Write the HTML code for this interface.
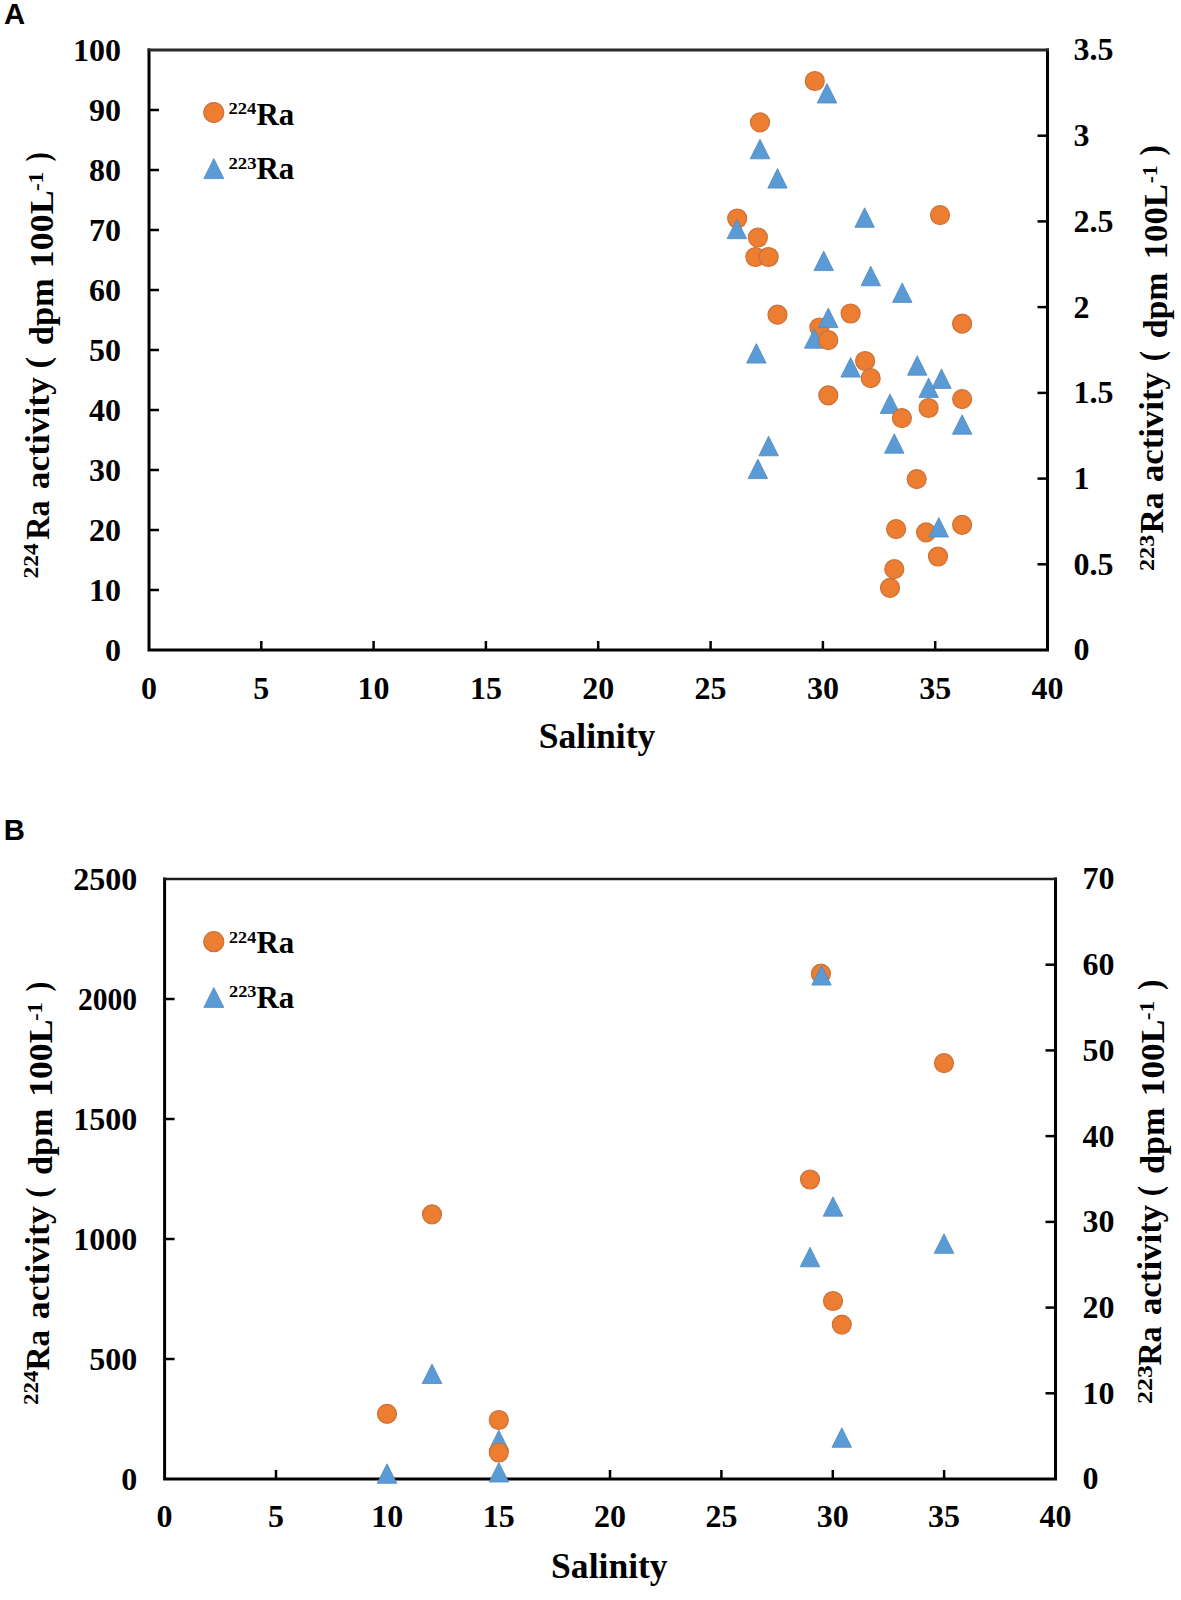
<!DOCTYPE html>
<html><head><meta charset="utf-8"><style>
html,body{margin:0;padding:0;background:#fff;}
svg{display:block;}
.t{font-family:"Liberation Serif",serif;font-weight:bold;font-size:32px;fill:#000;}
.s{font-family:"Liberation Serif",serif;font-weight:bold;fill:#000;}
.pl{font-family:"Liberation Sans",sans-serif;font-weight:bold;fill:#000;}
</style></head><body>
<svg width="1181" height="1600" viewBox="0 0 1181 1600">
<rect width="1181" height="1600" fill="#fff"/>
<text x="4" y="23.9" class="pl" font-size="29.3">A</text>
<text x="3.8" y="840.2" class="pl" font-size="29.3">B</text>
<path d="M149,650 L149,50 M1047.5,50 L1047.5,650 L149,650" fill="none" stroke="#000" stroke-width="3" stroke-linejoin="miter" stroke-linecap="square"/>
<line x1="147.5" y1="50" x2="1049.0" y2="50" stroke="#2a2a2a" stroke-width="3.2"/>
<text x="120.9" y="660.6" text-anchor="end" class="t">0</text>
<line x1="149" y1="590.0" x2="159" y2="590.0" stroke="#000" stroke-width="2.5"/>
<text x="120.9" y="600.6" text-anchor="end" class="t">10</text>
<line x1="149" y1="530.0" x2="159" y2="530.0" stroke="#000" stroke-width="2.5"/>
<text x="120.9" y="540.6" text-anchor="end" class="t">20</text>
<line x1="149" y1="470.0" x2="159" y2="470.0" stroke="#000" stroke-width="2.5"/>
<text x="120.9" y="480.6" text-anchor="end" class="t">30</text>
<line x1="149" y1="410.0" x2="159" y2="410.0" stroke="#000" stroke-width="2.5"/>
<text x="120.9" y="420.6" text-anchor="end" class="t">40</text>
<line x1="149" y1="350.0" x2="159" y2="350.0" stroke="#000" stroke-width="2.5"/>
<text x="120.9" y="360.6" text-anchor="end" class="t">50</text>
<line x1="149" y1="290.0" x2="159" y2="290.0" stroke="#000" stroke-width="2.5"/>
<text x="120.9" y="300.6" text-anchor="end" class="t">60</text>
<line x1="149" y1="230.0" x2="159" y2="230.0" stroke="#000" stroke-width="2.5"/>
<text x="120.9" y="240.6" text-anchor="end" class="t">70</text>
<line x1="149" y1="170.0" x2="159" y2="170.0" stroke="#000" stroke-width="2.5"/>
<text x="120.9" y="180.6" text-anchor="end" class="t">80</text>
<line x1="149" y1="110.0" x2="159" y2="110.0" stroke="#000" stroke-width="2.5"/>
<text x="120.9" y="120.6" text-anchor="end" class="t">90</text>
<text x="120.9" y="60.6" text-anchor="end" class="t">100</text>
<text x="1073.6" y="660.4" text-anchor="start" class="t">0</text>
<line x1="1037.5" y1="564.3" x2="1047.5" y2="564.3" stroke="#000" stroke-width="2.5"/>
<text x="1073.6" y="574.7" text-anchor="start" class="t">0.5</text>
<line x1="1037.5" y1="478.6" x2="1047.5" y2="478.6" stroke="#000" stroke-width="2.5"/>
<text x="1073.6" y="489.0" text-anchor="start" class="t">1</text>
<line x1="1037.5" y1="392.9" x2="1047.5" y2="392.9" stroke="#000" stroke-width="2.5"/>
<text x="1073.6" y="403.3" text-anchor="start" class="t">1.5</text>
<line x1="1037.5" y1="307.1" x2="1047.5" y2="307.1" stroke="#000" stroke-width="2.5"/>
<text x="1073.6" y="317.5" text-anchor="start" class="t">2</text>
<line x1="1037.5" y1="221.4" x2="1047.5" y2="221.4" stroke="#000" stroke-width="2.5"/>
<text x="1073.6" y="231.8" text-anchor="start" class="t">2.5</text>
<line x1="1037.5" y1="135.7" x2="1047.5" y2="135.7" stroke="#000" stroke-width="2.5"/>
<text x="1073.6" y="146.1" text-anchor="start" class="t">3</text>
<text x="1073.6" y="60.4" text-anchor="start" class="t">3.5</text>
<text x="149.0" y="699" text-anchor="middle" class="t">0</text>
<line x1="261.3" y1="641" x2="261.3" y2="650" stroke="#000" stroke-width="2.5"/>
<text x="261.3" y="699" text-anchor="middle" class="t">5</text>
<line x1="373.6" y1="641" x2="373.6" y2="650" stroke="#000" stroke-width="2.5"/>
<text x="373.6" y="699" text-anchor="middle" class="t">10</text>
<line x1="485.9" y1="641" x2="485.9" y2="650" stroke="#000" stroke-width="2.5"/>
<text x="485.9" y="699" text-anchor="middle" class="t">15</text>
<line x1="598.2" y1="641" x2="598.2" y2="650" stroke="#000" stroke-width="2.5"/>
<text x="598.2" y="699" text-anchor="middle" class="t">20</text>
<line x1="710.6" y1="641" x2="710.6" y2="650" stroke="#000" stroke-width="2.5"/>
<text x="710.6" y="699" text-anchor="middle" class="t">25</text>
<line x1="822.9" y1="641" x2="822.9" y2="650" stroke="#000" stroke-width="2.5"/>
<text x="822.9" y="699" text-anchor="middle" class="t">30</text>
<line x1="935.2" y1="641" x2="935.2" y2="650" stroke="#000" stroke-width="2.5"/>
<text x="935.2" y="699" text-anchor="middle" class="t">35</text>
<text x="1047.5" y="699" text-anchor="middle" class="t">40</text>
<circle cx="814.8" cy="81.0" r="9.5" fill="#ED7D31" stroke="#C9723A" stroke-width="1.2"/>
<circle cx="737.2" cy="218.5" r="9.5" fill="#ED7D31" stroke="#C9723A" stroke-width="1.2"/>
<circle cx="819.4" cy="327.5" r="9.5" fill="#ED7D31" stroke="#C9723A" stroke-width="1.2"/>
<circle cx="926.1" cy="532.4" r="9.5" fill="#ED7D31" stroke="#C9723A" stroke-width="1.2"/>
<path d="M827.0,83.5 L836.8,103.0 L817.2,103.0Z" fill="#5B9BD5" stroke="#4F89BF" stroke-width="0.8"/>
<path d="M760.0,139.2 L769.8,158.8 L750.2,158.8Z" fill="#5B9BD5" stroke="#4F89BF" stroke-width="0.8"/>
<path d="M777.5,168.6 L787.2,188.1 L767.8,188.1Z" fill="#5B9BD5" stroke="#4F89BF" stroke-width="0.8"/>
<path d="M736.9,219.2 L746.6,238.7 L727.1,238.7Z" fill="#5B9BD5" stroke="#4F89BF" stroke-width="0.8"/>
<path d="M864.6,207.8 L874.4,227.3 L854.9,227.3Z" fill="#5B9BD5" stroke="#4F89BF" stroke-width="0.8"/>
<path d="M823.7,251.1 L833.5,270.6 L814.0,270.6Z" fill="#5B9BD5" stroke="#4F89BF" stroke-width="0.8"/>
<path d="M870.7,266.2 L880.5,285.8 L861.0,285.8Z" fill="#5B9BD5" stroke="#4F89BF" stroke-width="0.8"/>
<path d="M902.2,282.9 L912.0,302.4 L892.5,302.4Z" fill="#5B9BD5" stroke="#4F89BF" stroke-width="0.8"/>
<path d="M828.3,308.1 L838.0,327.6 L818.5,327.6Z" fill="#5B9BD5" stroke="#4F89BF" stroke-width="0.8"/>
<path d="M814.3,328.8 L824.0,348.2 L804.5,348.2Z" fill="#5B9BD5" stroke="#4F89BF" stroke-width="0.8"/>
<path d="M756.4,343.6 L766.1,363.1 L746.6,363.1Z" fill="#5B9BD5" stroke="#4F89BF" stroke-width="0.8"/>
<path d="M850.6,357.6 L860.4,377.1 L840.9,377.1Z" fill="#5B9BD5" stroke="#4F89BF" stroke-width="0.8"/>
<path d="M917.2,355.8 L927.0,375.2 L907.5,375.2Z" fill="#5B9BD5" stroke="#4F89BF" stroke-width="0.8"/>
<path d="M941.5,368.9 L951.2,388.4 L931.8,388.4Z" fill="#5B9BD5" stroke="#4F89BF" stroke-width="0.8"/>
<path d="M928.6,377.9 L938.4,397.4 L918.9,397.4Z" fill="#5B9BD5" stroke="#4F89BF" stroke-width="0.8"/>
<path d="M890.0,393.9 L899.8,413.4 L880.2,413.4Z" fill="#5B9BD5" stroke="#4F89BF" stroke-width="0.8"/>
<path d="M962.1,414.8 L971.9,434.2 L952.4,434.2Z" fill="#5B9BD5" stroke="#4F89BF" stroke-width="0.8"/>
<path d="M894.3,433.8 L904.0,453.2 L884.5,453.2Z" fill="#5B9BD5" stroke="#4F89BF" stroke-width="0.8"/>
<path d="M768.6,436.2 L778.4,455.8 L758.9,455.8Z" fill="#5B9BD5" stroke="#4F89BF" stroke-width="0.8"/>
<path d="M757.9,459.1 L767.6,478.6 L748.1,478.6Z" fill="#5B9BD5" stroke="#4F89BF" stroke-width="0.8"/>
<path d="M938.8,517.5 L948.5,537.0 L929.0,537.0Z" fill="#5B9BD5" stroke="#4F89BF" stroke-width="0.8"/>
<circle cx="760.0" cy="122.4" r="9.5" fill="#ED7D31" stroke="#C9723A" stroke-width="1.2"/>
<circle cx="757.9" cy="237.5" r="9.5" fill="#ED7D31" stroke="#C9723A" stroke-width="1.2"/>
<circle cx="755.4" cy="257.0" r="9.5" fill="#ED7D31" stroke="#C9723A" stroke-width="1.2"/>
<circle cx="768.6" cy="257.0" r="9.5" fill="#ED7D31" stroke="#C9723A" stroke-width="1.2"/>
<circle cx="940.0" cy="215.1" r="9.5" fill="#ED7D31" stroke="#C9723A" stroke-width="1.2"/>
<circle cx="777.5" cy="314.7" r="9.5" fill="#ED7D31" stroke="#C9723A" stroke-width="1.2"/>
<circle cx="850.6" cy="313.5" r="9.5" fill="#ED7D31" stroke="#C9723A" stroke-width="1.2"/>
<circle cx="962.1" cy="323.7" r="9.5" fill="#ED7D31" stroke="#C9723A" stroke-width="1.2"/>
<circle cx="828.3" cy="340.2" r="9.5" fill="#ED7D31" stroke="#C9723A" stroke-width="1.2"/>
<circle cx="865.1" cy="361.0" r="9.5" fill="#ED7D31" stroke="#C9723A" stroke-width="1.2"/>
<circle cx="870.7" cy="378.2" r="9.5" fill="#ED7D31" stroke="#C9723A" stroke-width="1.2"/>
<circle cx="828.3" cy="395.3" r="9.5" fill="#ED7D31" stroke="#C9723A" stroke-width="1.2"/>
<circle cx="962.1" cy="399.1" r="9.5" fill="#ED7D31" stroke="#C9723A" stroke-width="1.2"/>
<circle cx="928.6" cy="408.0" r="9.5" fill="#ED7D31" stroke="#C9723A" stroke-width="1.2"/>
<circle cx="901.9" cy="418.1" r="9.5" fill="#ED7D31" stroke="#C9723A" stroke-width="1.2"/>
<circle cx="916.7" cy="479.1" r="9.5" fill="#ED7D31" stroke="#C9723A" stroke-width="1.2"/>
<circle cx="896.1" cy="529.1" r="9.5" fill="#ED7D31" stroke="#C9723A" stroke-width="1.2"/>
<circle cx="962.1" cy="524.8" r="9.5" fill="#ED7D31" stroke="#C9723A" stroke-width="1.2"/>
<circle cx="938.0" cy="556.5" r="9.5" fill="#ED7D31" stroke="#C9723A" stroke-width="1.2"/>
<circle cx="894.3" cy="569.2" r="9.5" fill="#ED7D31" stroke="#C9723A" stroke-width="1.2"/>
<circle cx="890.0" cy="587.8" r="9.5" fill="#ED7D31" stroke="#C9723A" stroke-width="1.2"/>
<circle cx="213.8" cy="112.6" r="10" fill="#ED7D31" stroke="#C9723A" stroke-width="1.2"/>
<path d="M213.8,158.6 L223.8,178.6 L203.8,178.6Z" fill="#5B9BD5" stroke="#4F89BF" stroke-width="0.8"/>
<text transform="translate(228.42,114.40) scale(1.0599,1)" class="s" font-size="17.5">224</text>
<text transform="translate(256.47,125.00) scale(0.9818,1)" class="s" font-size="31.5">Ra</text>
<text transform="translate(228.41,168.90) scale(1.0716,1)" class="s" font-size="17.5">223</text>
<text transform="translate(256.47,179.00) scale(0.9818,1)" class="s" font-size="31.5">Ra</text>
<text transform="translate(538.71,748.40) scale(0.9746,1)" class="s" font-size="36.5">Salinity</text>
<path d="M164.6,1479 L164.6,879 M1055.5,879 L1055.5,1479 L164.6,1479" fill="none" stroke="#000" stroke-width="3" stroke-linejoin="miter" stroke-linecap="square"/>
<line x1="163.1" y1="879" x2="1057.0" y2="879" stroke="#1a1a1a" stroke-width="2.6"/>
<text x="137.2" y="1489.6" text-anchor="end" class="t">0</text>
<line x1="164.6" y1="1359.0" x2="174.6" y2="1359.0" stroke="#000" stroke-width="2.5"/>
<text x="137.2" y="1369.6" text-anchor="end" class="t">500</text>
<line x1="164.6" y1="1239.0" x2="174.6" y2="1239.0" stroke="#000" stroke-width="2.5"/>
<text x="137.2" y="1249.6" text-anchor="end" class="t">1000</text>
<line x1="164.6" y1="1119.0" x2="174.6" y2="1119.0" stroke="#000" stroke-width="2.5"/>
<text x="137.2" y="1129.6" text-anchor="end" class="t">1500</text>
<line x1="164.6" y1="999.0" x2="174.6" y2="999.0" stroke="#000" stroke-width="2.5"/>
<text transform="translate(77.96,1009.60) scale(0.9245,1)" class="t" font-size="32">2000</text>
<text x="137.2" y="889.6" text-anchor="end" class="t">2500</text>
<text x="1082.6" y="1489.4" text-anchor="start" class="t">0</text>
<line x1="1045.5" y1="1393.3" x2="1055.5" y2="1393.3" stroke="#000" stroke-width="2.5"/>
<text x="1082.6" y="1403.7" text-anchor="start" class="t">10</text>
<line x1="1045.5" y1="1307.6" x2="1055.5" y2="1307.6" stroke="#000" stroke-width="2.5"/>
<text x="1082.6" y="1318.0" text-anchor="start" class="t">20</text>
<line x1="1045.5" y1="1221.9" x2="1055.5" y2="1221.9" stroke="#000" stroke-width="2.5"/>
<text x="1082.6" y="1232.3" text-anchor="start" class="t">30</text>
<line x1="1045.5" y1="1136.1" x2="1055.5" y2="1136.1" stroke="#000" stroke-width="2.5"/>
<text x="1082.6" y="1146.5" text-anchor="start" class="t">40</text>
<line x1="1045.5" y1="1050.4" x2="1055.5" y2="1050.4" stroke="#000" stroke-width="2.5"/>
<text x="1082.6" y="1060.8" text-anchor="start" class="t">50</text>
<line x1="1045.5" y1="964.7" x2="1055.5" y2="964.7" stroke="#000" stroke-width="2.5"/>
<text x="1082.6" y="975.1" text-anchor="start" class="t">60</text>
<text x="1082.6" y="889.4" text-anchor="start" class="t">70</text>
<text x="164.6" y="1527.3" text-anchor="middle" class="t">0</text>
<line x1="276.0" y1="1470" x2="276.0" y2="1479" stroke="#000" stroke-width="2.5"/>
<text x="276.0" y="1527.3" text-anchor="middle" class="t">5</text>
<line x1="387.3" y1="1470" x2="387.3" y2="1479" stroke="#000" stroke-width="2.5"/>
<text x="387.3" y="1527.3" text-anchor="middle" class="t">10</text>
<line x1="498.7" y1="1470" x2="498.7" y2="1479" stroke="#000" stroke-width="2.5"/>
<text x="498.7" y="1527.3" text-anchor="middle" class="t">15</text>
<line x1="610.0" y1="1470" x2="610.0" y2="1479" stroke="#000" stroke-width="2.5"/>
<text x="610.0" y="1527.3" text-anchor="middle" class="t">20</text>
<line x1="721.4" y1="1470" x2="721.4" y2="1479" stroke="#000" stroke-width="2.5"/>
<text x="721.4" y="1527.3" text-anchor="middle" class="t">25</text>
<line x1="832.8" y1="1470" x2="832.8" y2="1479" stroke="#000" stroke-width="2.5"/>
<text x="832.8" y="1527.3" text-anchor="middle" class="t">30</text>
<line x1="944.1" y1="1470" x2="944.1" y2="1479" stroke="#000" stroke-width="2.5"/>
<text x="944.1" y="1527.3" text-anchor="middle" class="t">35</text>
<text x="1055.5" y="1527.3" text-anchor="middle" class="t">40</text>
<circle cx="820.9" cy="973.7" r="9.5" fill="#ED7D31" stroke="#C9723A" stroke-width="1.2"/>
<path d="M432.0,1364.0 L441.8,1383.5 L422.2,1383.5Z" fill="#5B9BD5" stroke="#4F89BF" stroke-width="0.8"/>
<path d="M387.0,1463.8 L396.8,1483.3 L377.2,1483.3Z" fill="#5B9BD5" stroke="#4F89BF" stroke-width="0.8"/>
<path d="M498.8,1430.2 L508.6,1449.8 L489.1,1449.8Z" fill="#5B9BD5" stroke="#4F89BF" stroke-width="0.8"/>
<path d="M498.9,1462.5 L508.6,1482.0 L489.1,1482.0Z" fill="#5B9BD5" stroke="#4F89BF" stroke-width="0.8"/>
<path d="M821.5,965.6 L831.2,985.1 L811.8,985.1Z" fill="#5B9BD5" stroke="#4F89BF" stroke-width="0.8"/>
<path d="M833.0,1196.8 L842.8,1216.2 L823.2,1216.2Z" fill="#5B9BD5" stroke="#4F89BF" stroke-width="0.8"/>
<path d="M944.0,1233.8 L953.8,1253.3 L934.2,1253.3Z" fill="#5B9BD5" stroke="#4F89BF" stroke-width="0.8"/>
<path d="M810.0,1247.3 L819.8,1266.8 L800.2,1266.8Z" fill="#5B9BD5" stroke="#4F89BF" stroke-width="0.8"/>
<path d="M841.8,1427.8 L851.5,1447.3 L832.0,1447.3Z" fill="#5B9BD5" stroke="#4F89BF" stroke-width="0.8"/>
<circle cx="432.0" cy="1214.3" r="9.5" fill="#ED7D31" stroke="#C9723A" stroke-width="1.2"/>
<circle cx="387.0" cy="1413.8" r="9.5" fill="#ED7D31" stroke="#C9723A" stroke-width="1.2"/>
<circle cx="498.8" cy="1420.0" r="9.5" fill="#ED7D31" stroke="#C9723A" stroke-width="1.2"/>
<circle cx="498.8" cy="1452.5" r="9.5" fill="#ED7D31" stroke="#C9723A" stroke-width="1.2"/>
<circle cx="944.0" cy="1063.1" r="9.5" fill="#ED7D31" stroke="#C9723A" stroke-width="1.2"/>
<circle cx="810.0" cy="1179.5" r="9.5" fill="#ED7D31" stroke="#C9723A" stroke-width="1.2"/>
<circle cx="833.0" cy="1301.0" r="9.5" fill="#ED7D31" stroke="#C9723A" stroke-width="1.2"/>
<circle cx="841.8" cy="1324.6" r="9.5" fill="#ED7D31" stroke="#C9723A" stroke-width="1.2"/>
<circle cx="213.8" cy="941.7" r="10" fill="#ED7D31" stroke="#C9723A" stroke-width="1.2"/>
<path d="M213.8,987.4 L223.8,1007.4 L203.8,1007.4Z" fill="#5B9BD5" stroke="#4F89BF" stroke-width="0.8"/>
<text transform="translate(229.04,942.60) scale(1.0361,1)" class="s" font-size="17.5">224</text>
<text transform="translate(256.47,952.70) scale(0.9818,1)" class="s" font-size="31.5">Ra</text>
<text transform="translate(229.03,997.10) scale(1.0475,1)" class="s" font-size="17.5">223</text>
<text transform="translate(256.47,1007.80) scale(0.9818,1)" class="s" font-size="31.5">Ra</text>
<text transform="translate(551.11,1578.40) scale(0.9738,1)" class="s" font-size="36.5">Salinity</text>
<text transform="translate(37.50,0) rotate(-90) translate(-578.48,0) scale(1.0657,1)" class="s" font-size="22">224</text>
<text transform="translate(49.00,0) rotate(-90) translate(-539.80,0) scale(0.9317,1)" class="s" font-size="34.5">Ra</text>
<text transform="translate(49.00,0) rotate(-90) translate(-489.14,0) scale(1.0254,1)" class="s" font-size="34.5">activity</text>
<text transform="translate(49.00,0) rotate(-90) translate(-368.54,0) scale(1.0157,1)" class="s" font-size="34.5">(</text>
<text transform="translate(52.80,0) rotate(-90) translate(-345.20,0) scale(1.0135,1)" class="s" font-size="34">dpm</text>
<text transform="translate(52.80,0) rotate(-90) translate(-268.13,0) scale(1.0571,1)" class="s" font-size="34">100L</text>
<text transform="translate(42.80,0) rotate(-90) translate(-191.10,0) scale(1.0530,1)" class="s" font-size="22">-1</text>
<text transform="translate(49.00,0) rotate(-90) translate(-161.39,0) scale(0.8013,1)" class="s" font-size="34.5">)</text>
<text transform="translate(1154.00,0) rotate(-90) translate(-571.02,0) scale(1.1014,1)" class="s" font-size="22">223</text>
<text transform="translate(1163.30,0) rotate(-90) translate(-533.57,0) scale(0.9744,1)" class="s" font-size="34.5">Ra</text>
<text transform="translate(1163.30,0) rotate(-90) translate(-482.12,0) scale(1.0068,1)" class="s" font-size="34.5">activity</text>
<text transform="translate(1163.30,0) rotate(-90) translate(-361.37,0) scale(0.9028,1)" class="s" font-size="34.5">(</text>
<text transform="translate(1166.80,0) rotate(-90) translate(-338.37,0) scale(0.9972,1)" class="s" font-size="34">dpm</text>
<text transform="translate(1166.80,0) rotate(-90) translate(-259.28,0) scale(1.0212,1)" class="s" font-size="34">100L</text>
<text transform="translate(1156.80,0) rotate(-90) translate(-183.29,0) scale(0.9767,1)" class="s" font-size="22">-1</text>
<text transform="translate(1163.30,0) rotate(-90) translate(-155.50,0) scale(0.9028,1)" class="s" font-size="34.5">)</text>
<text transform="translate(38.00,0) rotate(-90) translate(-1404.96,0) scale(1.0421,1)" class="s" font-size="22">224</text>
<text transform="translate(48.60,0) rotate(-90) translate(-1370.57,0) scale(0.9622,1)" class="s" font-size="34.5">Ra</text>
<text transform="translate(48.60,0) rotate(-90) translate(-1319.15,0) scale(1.0347,1)" class="s" font-size="34.5">activity</text>
<text transform="translate(48.60,0) rotate(-90) translate(-1197.87,0) scale(0.9028,1)" class="s" font-size="34.5">(</text>
<text transform="translate(51.50,0) rotate(-90) translate(-1174.88,0) scale(1.0050,1)" class="s" font-size="34">dpm</text>
<text transform="translate(51.50,0) rotate(-90) translate(-1096.86,0) scale(1.0499,1)" class="s" font-size="34">100L</text>
<text transform="translate(41.50,0) rotate(-90) translate(-1020.81,0) scale(1.0072,1)" class="s" font-size="22">-1</text>
<text transform="translate(48.60,0) rotate(-90) translate(-991.44,0) scale(0.8464,1)" class="s" font-size="34.5">)</text>
<text transform="translate(1152.00,0) rotate(-90) translate(-1404.09,0) scale(1.1812,1)" class="s" font-size="22">223</text>
<text transform="translate(1161.00,0) rotate(-90) translate(-1365.55,0) scale(0.9256,1)" class="s" font-size="34.5">Ra</text>
<text transform="translate(1161.00,0) rotate(-90) translate(-1315.12,0) scale(1.0115,1)" class="s" font-size="34.5">activity</text>
<text transform="translate(1161.00,0) rotate(-90) translate(-1196.37,0) scale(0.9028,1)" class="s" font-size="34.5">(</text>
<text transform="translate(1164.00,0) rotate(-90) translate(-1173.88,0) scale(1.0050,1)" class="s" font-size="34">dpm</text>
<text transform="translate(1164.00,0) rotate(-90) translate(-1096.34,0) scale(1.0428,1)" class="s" font-size="34">100L</text>
<text transform="translate(1154.00,0) rotate(-90) translate(-1020.36,0) scale(1.0683,1)" class="s" font-size="22">-1</text>
<text transform="translate(1161.00,0) rotate(-90) translate(-990.00,0) scale(0.9028,1)" class="s" font-size="34.5">)</text>
</svg>
</body></html>
